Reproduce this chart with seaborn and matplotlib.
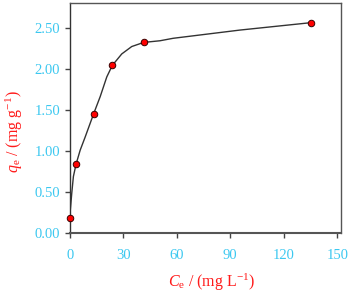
import numpy as np
import pandas as pd
import matplotlib
matplotlib.use('Agg')
import matplotlib.pyplot as plt
import seaborn as sns
from matplotlib.ticker import FormatStrFormatter, MultipleLocator

# 实验数据点 (Ce, qe)
ce_points = [0.0, 3.6, 13.4, 23.9, 41.5, 135.2]
qe_points = [0.19, 0.84, 1.45, 2.04, 2.32, 2.56]

# 平滑曲线
ce_curve = [0.0, 1.2, 2.1, 3.6, 5.9, 8.7, 13.4, 17.1, 20.8, 23.9, 29.2, 34.8, 41.5, 50.6, 58.0, 95.4, 135.2]
qe_curve = [0.19, 0.49, 0.69, 0.84, 1.01, 1.17, 1.45, 1.66, 1.90, 2.04, 2.18, 2.27, 2.32, 2.34, 2.37, 2.47, 2.56]

sns.set_style('ticks')
plt.rcParams['font.family'] = ['Liberation Serif', 'DejaVu Serif']
plt.rcParams['mathtext.fontset'] = 'custom'
plt.rcParams['mathtext.rm'] = 'Liberation Serif'
plt.rcParams['mathtext.it'] = 'Liberation Serif:italic'

tick_col = '#3cc8f0'
lab_col = '#ff1a1a'

fig = plt.figure(figsize=(3.5, 2.93), dpi=100)
ax = fig.add_axes([0.199, 0.204, 0.775, 0.786])

sns.lineplot(x=ce_curve, y=qe_curve, ax=ax, color='#333333', lw=1.0, sort=False)
sns.scatterplot(x=ce_points, y=qe_points, ax=ax, color='red', edgecolor='#3a0000',
                linewidth=0.7, s=22, zorder=5, clip_on=False)

ax.set_xlim(0, 152)
ax.set_ylim(0, 2.8)
ax.xaxis.set_major_locator(MultipleLocator(30))
ax.yaxis.set_major_locator(MultipleLocator(0.5))
ax.yaxis.set_major_formatter(FormatStrFormatter('%.2f'))
ax.tick_params(axis='both', direction='out', length=3.3, width=1, color='#444444',
               labelsize=10.5, labelcolor=tick_col)
ax.tick_params(axis='x', pad=8)
ax.tick_params(axis='y', pad=3.5)
ax.tick_params(top=False, right=False)
for s in ax.spines.values():
    s.set_visible(True)
    s.set_color('#555555')
    s.set_linewidth(1.0)
ax.spines['bottom'].set_linewidth(1.5)
ax.spines['left'].set_color('#333333')

ax.set_xlabel(r'$C_{\mathrm{e}}$ / (mg L$^{-1}$)', color=lab_col, fontsize=11.5)
ax.set_ylabel(r'$q_{\mathrm{e}}$ / (mg g$^{-1}$)', color=lab_col, fontsize=11.5)
ax.xaxis.set_label_coords(0.525, -0.165)
ax.yaxis.set_label_coords(-0.165, 0.44)

fig.savefig('out.png', dpi=100)
